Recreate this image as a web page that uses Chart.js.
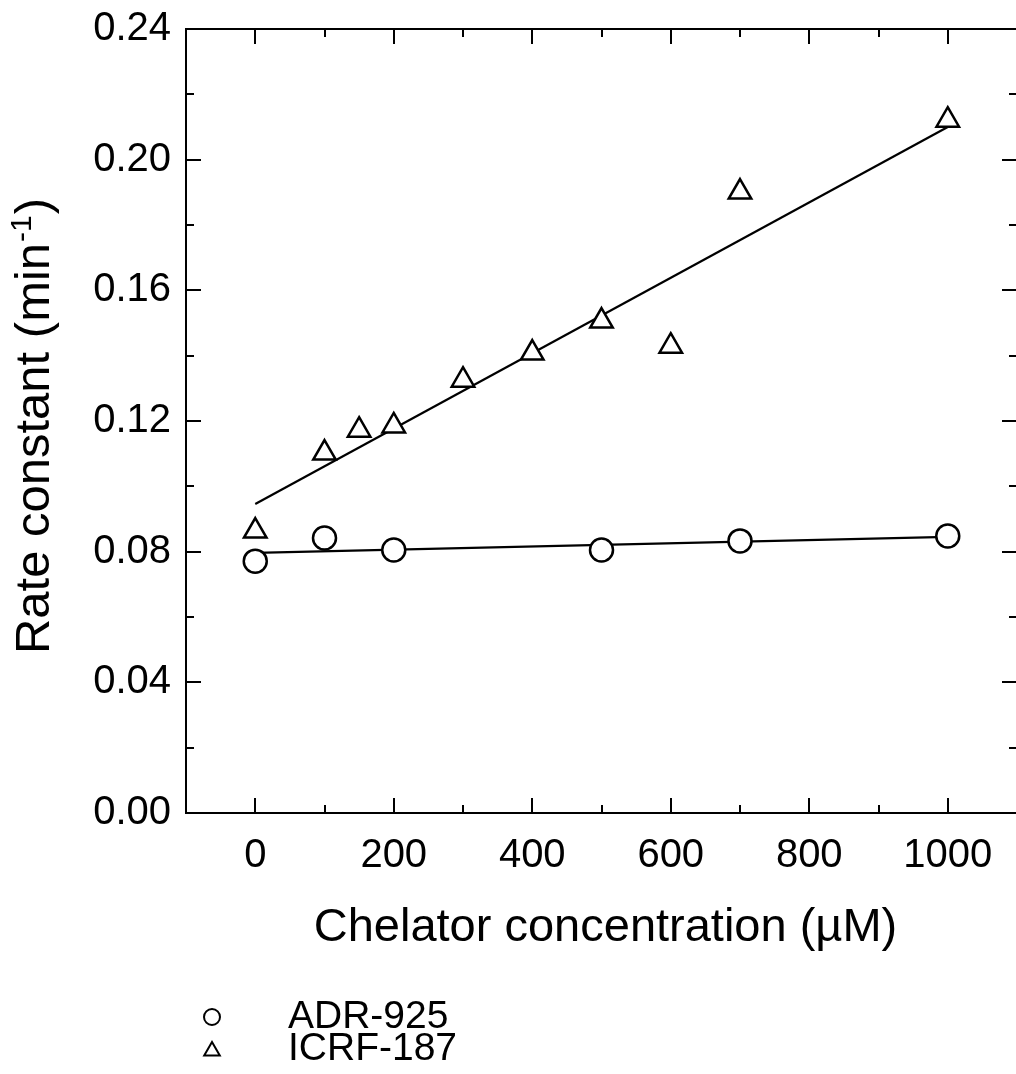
<!DOCTYPE html>
<html>
<head>
<meta charset="utf-8">
<script src="https://cdn.jsdelivr.net/npm/chart.js@4/dist/chart.umd.min.js"></script>
<style>
  html, body { margin: 0; padding: 0; background: #fff; overflow: hidden; }
  canvas { display: block; }
</style>
</head>
<body>
<canvas id="c" width="1018" height="1074"></canvas>
<script>
// Measured rate constants (min^-1) versus chelator concentration (µM)
const concADR = [0, 100, 200, 500, 700, 1000];
const rateADR = [0.0771, 0.0842, 0.0805, 0.0805, 0.0833, 0.0848];
const concICRF = [0, 100, 150, 200, 300, 400, 500, 600, 700, 1000];
const rateICRF = [0.0863, 0.1102, 0.1172, 0.1185, 0.1325, 0.1408, 0.1506, 0.1429, 0.1901, 0.2121];

// Linear fit lines, given by their end points
const fitConc = [0, 1000];
const fitADR = [0.0796, 0.0845];
const fitICRF = [0.0946, 0.2100];

// Axis ticks
const xTicks = [0, 200, 400, 600, 800, 1000];
const xMinor = [-100, 100, 300, 500, 700, 900, 1100];
const yTicks = [0, 0.04, 0.08, 0.12, 0.16, 0.20, 0.24];
const yMinor = [0.02, 0.06, 0.10, 0.14, 0.18, 0.22];

const seriesNames = ['ADR-925', 'ICRF-187'];
const xTitle = 'Chelator concentration (\u00B5M)';
const yTitle = ['Rate constant (min', '-1', ')'];

const FAMILY = '"Liberation Sans", Arial, Helvetica, sans-serif';
const font = s => s + 'px ' + FAMILY;
const pairs = (xs, ys) => xs.map((x, i) => ({ x: x, y: ys[i] }));

// Plot box edges on the page
const BOX = { left: 186, top: 29, right: 1017, bottom: 813 };

// Pin the plot area to BOX after Chart.js has laid out the axes
const boxPlugin = {
  id: 'box',
  afterLayout(chart) {
    const a = chart.chartArea;
    a.left = BOX.left; a.right = BOX.right; a.top = BOX.top; a.bottom = BOX.bottom;
    a.width = a.right - a.left; a.height = a.bottom - a.top;
    const xs = chart.scales.x, ys = chart.scales.y;
    xs.left = BOX.left; xs.right = BOX.right; xs.width = BOX.right - BOX.left;
    xs.top = BOX.bottom; xs.bottom = chart.height; xs.height = xs.bottom - xs.top;
    ys.top = BOX.top; ys.bottom = BOX.bottom; ys.height = BOX.bottom - BOX.top;
    ys.left = 0; ys.right = BOX.left; ys.width = BOX.left;
    xs.configure();
    ys.configure();
  }
};

// Boxed frame with inward ticks on all four sides
const framePlugin = {
  id: 'frame',
  beforeDatasetsDraw(chart) {
    const { ctx, chartArea: a, scales } = chart;
    const xs = scales.x, ys = scales.y;
    ctx.save();
    ctx.strokeStyle = '#000';
    ctx.lineWidth = 2;
    ctx.strokeRect(a.left, a.top, a.right - a.left, a.bottom - a.top);
    const seg = (x1, y1, x2, y2) => { ctx.beginPath(); ctx.moveTo(x1, y1); ctx.lineTo(x2, y2); ctx.stroke(); };
    const drawX = (v, len) => {
      const px = Math.round(xs.getPixelForValue(v));
      seg(px, a.bottom, px, a.bottom - len);
      seg(px, a.top, px, a.top + len);
    };
    const drawY = (v, len) => {
      const py = Math.round(ys.getPixelForValue(v));
      seg(a.left, py, a.left + len, py);
      seg(a.right, py, a.right - len, py);
    };
    xTicks.forEach(v => drawX(v, 15));
    xMinor.forEach(v => drawX(v, 8));
    yTicks.forEach(v => drawY(v, 15));
    yMinor.forEach(v => drawY(v, 8));
    ctx.restore();
  }
};

// Axis titles and the key below the plot
const labelPlugin = {
  id: 'labels',
  afterDraw(chart) {
    const { ctx, chartArea: a } = chart;
    ctx.save();
    ctx.fillStyle = '#000';
    ctx.textBaseline = 'alphabetic';

    // x title
    ctx.font = font(47);
    ctx.textAlign = 'center';
    ctx.fillText(xTitle, (a.left + a.right) / 2 + 4, 941);

    // y title with superscript
    ctx.save();
    ctx.translate(49, 427);
    ctx.rotate(-Math.PI / 2);
    ctx.textAlign = 'left';
    ctx.font = font(49);
    const w1 = ctx.measureText(yTitle[0]).width;
    const w3 = ctx.measureText(yTitle[2]).width;
    ctx.font = font(30);
    const w2 = ctx.measureText(yTitle[1]).width;
    let x0 = -(w1 + w2 + w3) / 2;
    ctx.font = font(49);
    ctx.fillText(yTitle[0], x0, 0);
    ctx.font = font(30);
    ctx.fillText(yTitle[1], x0 + w1 + 1, -18);
    ctx.font = font(49);
    ctx.fillText(yTitle[2], x0 + w1 + w2 + 2, 0);
    ctx.restore();

    // key
    const rows = [
      { style: 'circle', r: 8, y: 1017, text: seriesNames[0] },
      { style: 'triangle', r: 9, y: 1049, text: seriesNames[1] }
    ];
    rows.forEach(row => {
      ctx.save();
      ctx.fillStyle = '#fff';
      ctx.strokeStyle = '#000';
      ctx.lineWidth = 2;
      Chart.helpers.drawPoint(ctx, { pointStyle: row.style, radius: row.r, rotation: 0, borderWidth: 2 }, 212, row.y + (row.style === 'triangle' ? 2 : 0));
      ctx.restore();
      ctx.font = font(39);
      ctx.textAlign = 'left';
      ctx.textBaseline = 'middle';
      ctx.fillText(row.text, 288, row.y);
    });
    ctx.restore();
  }
};

const pointStyleCommon = {
  showLine: false,
  borderColor: '#000',
  backgroundColor: '#fff',
  borderWidth: 2.5,
  order: 1
};
const lineCommon = {
  showLine: true,
  borderColor: '#000',
  borderWidth: 2.2,
  pointRadius: 0,
  fill: false,
  order: 2
};

new Chart(document.getElementById('c'), {
  type: 'scatter',
  data: {
    datasets: [
      Object.assign({ label: seriesNames[0], data: pairs(concADR, rateADR), pointStyle: 'circle', pointRadius: 11.5 }, pointStyleCommon),
      Object.assign({ label: seriesNames[1], data: pairs(concICRF, rateICRF), pointStyle: 'triangle', pointRadius: 13 }, pointStyleCommon),
      Object.assign({ label: seriesNames[0] + ' fit', data: pairs(fitConc, fitADR) }, lineCommon),
      Object.assign({ label: seriesNames[1] + ' fit', data: pairs(fitConc, fitICRF) }, lineCommon)
    ]
  },
  options: {
    responsive: false,
    devicePixelRatio: 1,
    animation: false,
    layout: { padding: { top: 29, right: 1, left: 0, bottom: 0 } },
    plugins: { legend: { display: false }, tooltip: { enabled: false } },
    scales: {
      x: {
        type: 'linear',
        min: -100,
        max: 1100,
        afterBuildTicks(s) { s.ticks = xTicks.map(v => ({ value: v })); },
        grid: { display: false, drawTicks: false },
        border: { display: false },
        ticks: {
          padding: 19,
          color: '#000',
          font: { family: FAMILY, size: 40 },
          maxRotation: 0,
          autoSkip: false,
          callback: v => String(v)
        }
      },
      y: {
        type: 'linear',
        min: 0,
        max: 0.24,
        afterBuildTicks(s) { s.ticks = yTicks.map(v => ({ value: v })); },
        grid: { display: false, drawTicks: false },
        border: { display: false },
        ticks: {
          padding: 15,
          color: '#000',
          font: { family: FAMILY, size: 40 },
          autoSkip: false,
          callback: v => v.toFixed(2)
        }
      }
    }
  },
  plugins: [boxPlugin, framePlugin, labelPlugin]
});
</script>
</body>
</html>
